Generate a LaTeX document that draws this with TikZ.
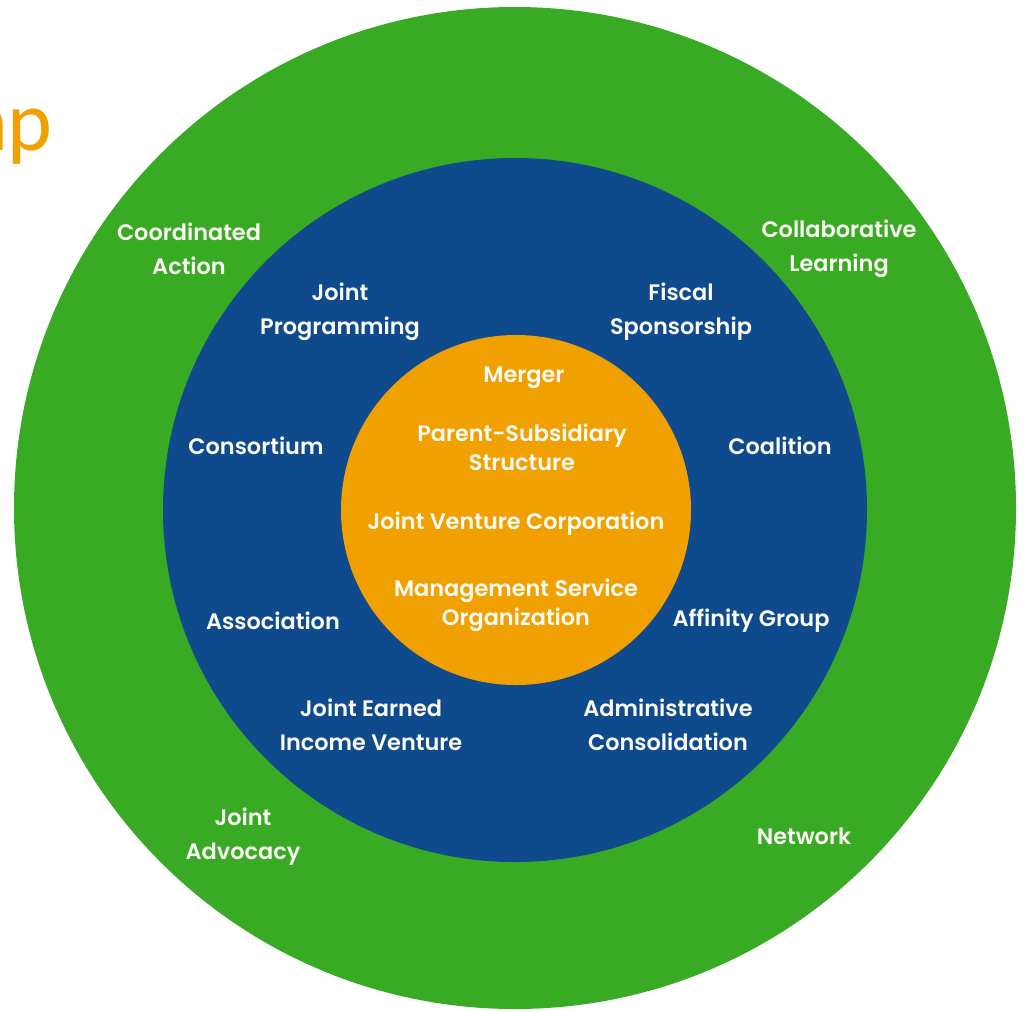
\documentclass[tikz,border=0pt]{standalone}
\usepackage{fontspec}
\setmainfont{Poppins}[UprightFont=* SemiBold]
\newfontfamily\headfont{Carlito}
\definecolor{ringgreen}{HTML}{38AA24}
\definecolor{ringblue}{HTML}{0F4A8C}
\definecolor{ringorange}{HTML}{F0A000}
\definecolor{labelwhite}{HTML}{FBFBF4}
\begin{document}
\begin{tikzpicture}[x=0.75pt,y=-0.75pt,
  lbl/.style={text=labelwhite, align=center, font=\fontsize{16.8}{25.5}\selectfont, inner sep=0pt},
  corelbl/.style={text=labelwhite, align=center, font=\fontsize{16.8}{21.5}\selectfont, inner sep=0pt}]
\useasboundingbox (0,0) rectangle (1030,1011);
\fill[white] (0,0) rectangle (1030,1011);

% concentric rings
\fill[ringgreen]  (515,508) circle[radius=501];
\fill[ringblue]   (515,510) circle[radius=352];
\fill[ringorange] (516,510) circle[radius=175];

% heading running in from the left edge
\node[anchor=base east, inner sep=0pt, text=ringorange,
      font=\headfont\fontsize{64}{64}\selectfont] (head) at (53,150) {ap};

% outer ring
\node[lbl] (coord)  at (189,249) {Coordinated\\Action};
\node[lbl] (collab) at (839,249) {Collaborative\\Learning};
\node[lbl] (advoc)  at (243,837) {Joint\\Advocacy};
\node[lbl] (netw)   at (804,836) {Network};

% middle ring
\node[lbl] (jprog)  at (340,312) {Joint\\Programming};
\node[lbl] (fiscal) at (681,312) {Fiscal\\Sponsorship};
\node[lbl] (consor) at (256,446) {Consortium};
\node[lbl] (coal)   at (780,446) {Coalition};
\node[lbl] (assoc)  at (273,621) {Association};
\node[lbl] (affin)  at (751,621) {Affinity Group};
\node[lbl] (jeiv)   at (371,725) {Joint Earned\\Income Venture};
\node[lbl] (admin)  at (668,725) {Administrative\\Consolidation};

% core
\node[corelbl] (merger) at (524,378) {Merger};
\node[corelbl] (parent) at (522,447) {Parent-Subsidiary\\Structure};
\node[corelbl] (jvc)    at (516,524) {Joint Venture Corporation};
\node[corelbl] (mso)    at (516,605) {Management Service\\Organization};
\end{tikzpicture}
\end{document}
